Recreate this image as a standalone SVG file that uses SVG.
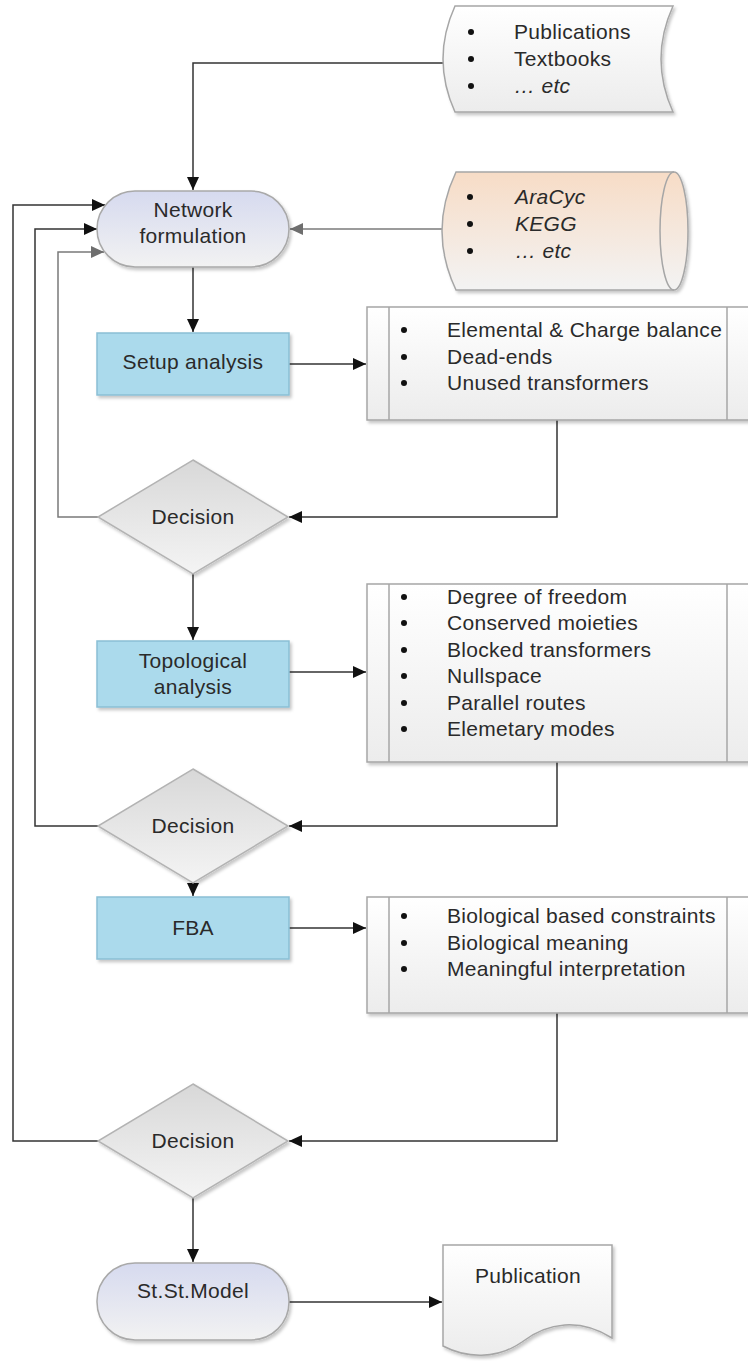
<svg xmlns="http://www.w3.org/2000/svg" width="748" height="1361" viewBox="0 0 748 1361">
<style>
.t{font-family:"Liberation Sans",Arial,sans-serif;font-size:21px;fill:#2a2a2a;letter-spacing:0.3px}
.i{font-style:italic}
.c{text-anchor:middle}
.b{fill:#111}
.ln{fill:none;stroke:#333;stroke-width:1.5}
.lg{fill:none;stroke:#7a7a7a;stroke-width:1.5}
.term{fill:url(#gTerm);stroke:#a9a9a9;stroke-width:1.5}
.proc{fill:#abdaec;stroke:#8abfd5;stroke-width:1.5}
.dec{fill:url(#gDec);stroke:#b3b3b3;stroke-width:1.5}
.box{fill:url(#gBox);stroke:#a6a6a6;stroke-width:1.5}
.sep{stroke:#a6a6a6;stroke-width:1.5}
.sh{filter:url(#shadow)}
</style>
<defs>
<linearGradient id="gTerm" x1="0" y1="0" x2="0" y2="1"><stop offset="0" stop-color="#d6daef"/><stop offset="1" stop-color="#f2f2f2"/></linearGradient>
<linearGradient id="gDec" x1="0" y1="0" x2="0" y2="1"><stop offset="0" stop-color="#d8d8d8"/><stop offset="1" stop-color="#f4f4f4"/></linearGradient>
<linearGradient id="gBox" x1="0" y1="0" x2="0" y2="1"><stop offset="0" stop-color="#ffffff"/><stop offset="1" stop-color="#ececec"/></linearGradient>
<linearGradient id="gCyl" x1="0" y1="0" x2="0" y2="1"><stop offset="0" stop-color="#f7dcc6"/><stop offset="1" stop-color="#f3f3f3"/></linearGradient>
<filter id="shadow" x="-10%" y="-10%" width="125%" height="125%"><feDropShadow dx="2" dy="2.5" stdDeviation="1.5" flood-color="#000" flood-opacity="0.22"/></filter>
<marker id="ab" markerUnits="userSpaceOnUse" markerWidth="14" markerHeight="12" refX="13" refY="6" orient="auto"><path d="M0,0 L13,6 L0,12 z" fill="#111"/></marker>
<marker id="ag" markerUnits="userSpaceOnUse" markerWidth="14" markerHeight="12" refX="13" refY="6" orient="auto"><path d="M0,0 L13,6 L0,12 z" fill="#6e6e6e"/></marker>
</defs>
<rect width="748" height="1361" fill="#fff"/>

<g id="connectors">
<path class="ln" d="M443,63 H193 V190" marker-end="url(#ab)"/>
<path class="lg" d="M442,229 H290" marker-end="url(#ag)"/>
<path class="ln" d="M193,267 V332" marker-end="url(#ab)"/>
<path class="ln" d="M289,364 H366" marker-end="url(#ab)"/>
<path class="ln" d="M557,420 V517 H289" marker-end="url(#ab)"/>
<path class="lg" d="M98,517 H58 V252 H104" marker-end="url(#ag)"/>
<path class="ln" d="M193,574 V640" marker-end="url(#ab)"/>
<path class="ln" d="M289,672 H366" marker-end="url(#ab)"/>
<path class="ln" d="M557,762 V826 H289" marker-end="url(#ab)"/>
<path class="ln" d="M98,826 H35 V229 H97" marker-end="url(#ab)"/>
<path class="ln" d="M193,883 V896" marker-end="url(#ab)"/>
<path class="ln" d="M289,928 H366" marker-end="url(#ab)"/>
<path class="ln" d="M557,1013 V1141 H289" marker-end="url(#ab)"/>
<path class="ln" d="M98,1141 H13 V205 H105" marker-end="url(#ab)"/>
<path class="ln" d="M193,1198 V1262" marker-end="url(#ab)"/>
<path class="ln" d="M289,1302 H442" marker-end="url(#ab)"/>
</g>

<g id="publications-src">
<path class="sh" d="M455,6 H673 Q649,59 673,112 H455 Q431,59 455,6 Z" fill="url(#gBox)" stroke="#a6a6a6" stroke-width="1.5"/>
<circle class="b" cx="471" cy="32" r="3"/><text class="t" x="514" y="39">Publications</text>
<circle class="b" cx="471" cy="59" r="3"/><text class="t" x="514" y="66">Textbooks</text>
<circle class="b" cx="471" cy="86" r="3"/><text class="t i" x="514" y="93">… etc</text>
</g>

<g id="databases">
<path class="sh" d="M456,172 H674 A14,59 0 0 1 674,290 H456 Q428,231 456,172 Z" fill="url(#gCyl)" stroke="#a6a6a6" stroke-width="1.5"/>
<path d="M674,172 A14,59 0 0 0 674,290" fill="none" stroke="#a6a6a6" stroke-width="1.5"/>
<circle class="b" cx="470" cy="197" r="3"/><text class="t i" x="515" y="204">AraCyc</text>
<circle class="b" cx="470" cy="224" r="3"/><text class="t i" x="515" y="231">KEGG</text>
<circle class="b" cx="470" cy="251" r="3"/><text class="t i" x="515" y="258">… etc</text>
</g>

<g id="network-formulation">
<rect class="term sh" x="97" y="191" width="192" height="76" rx="38"/>
<text class="t c" x="193" y="217">Network</text>
<text class="t c" x="193" y="243">formulation</text>
</g>

<g id="setup-analysis">
<rect class="proc sh" x="97" y="333" width="192" height="62"/>
<text class="t c" x="193" y="369">Setup analysis</text>
</g>

<g id="setup-checks">
<rect class="box sh" x="367" y="307" width="385" height="113"/>
<line class="sep" x1="389" y1="307" x2="389" y2="420"/>
<line class="sep" x1="727" y1="307" x2="727" y2="420"/>
<circle class="b" cx="404" cy="330" r="3"/><text class="t" x="447" y="337">Elemental &amp; Charge balance</text>
<circle class="b" cx="404" cy="357" r="3"/><text class="t" x="447" y="364">Dead-ends</text>
<circle class="b" cx="404" cy="383" r="3"/><text class="t" x="447" y="390">Unused transformers</text>
</g>

<g id="decision-1">
<path class="dec sh" d="M193,460 L288,517 L193,574 L98,517 Z"/>
<text class="t c" x="193" y="524">Decision</text>
</g>

<g id="topological-analysis">
<rect class="proc sh" x="97" y="641" width="192" height="66"/>
<text class="t c" x="193" y="668">Topological</text>
<text class="t c" x="193" y="694">analysis</text>
</g>

<g id="topological-checks">
<rect class="box sh" x="367" y="584" width="385" height="178"/>
<line class="sep" x1="389" y1="584" x2="389" y2="762"/>
<line class="sep" x1="727" y1="584" x2="727" y2="762"/>
<circle class="b" cx="404" cy="597" r="3"/><text class="t" x="447" y="604">Degree of freedom</text>
<circle class="b" cx="404" cy="623" r="3"/><text class="t" x="447" y="630">Conserved moieties</text>
<circle class="b" cx="404" cy="650" r="3"/><text class="t" x="447" y="657">Blocked transformers</text>
<circle class="b" cx="404" cy="676" r="3"/><text class="t" x="447" y="683">Nullspace</text>
<circle class="b" cx="404" cy="703" r="3"/><text class="t" x="447" y="710">Parallel routes</text>
<circle class="b" cx="404" cy="729" r="3"/><text class="t" x="447" y="736">Elemetary modes</text>
</g>

<g id="decision-2">
<path class="dec sh" d="M193,769 L288,826 L193,883 L98,826 Z"/>
<text class="t c" x="193" y="833">Decision</text>
</g>

<g id="fba">
<rect class="proc sh" x="97" y="897" width="192" height="62"/>
<text class="t c" x="193" y="935">FBA</text>
</g>

<g id="fba-checks">
<rect class="box sh" x="367" y="897" width="385" height="116"/>
<line class="sep" x1="389" y1="897" x2="389" y2="1013"/>
<line class="sep" x1="727" y1="897" x2="727" y2="1013"/>
<circle class="b" cx="404" cy="916" r="3"/><text class="t" x="447" y="923">Biological based constraints</text>
<circle class="b" cx="404" cy="943" r="3"/><text class="t" x="447" y="950">Biological meaning</text>
<circle class="b" cx="404" cy="969" r="3"/><text class="t" x="447" y="976">Meaningful interpretation</text>
</g>

<g id="decision-3">
<path class="dec sh" d="M193,1084 L288,1141 L193,1198 L98,1141 Z"/>
<text class="t c" x="193" y="1148">Decision</text>
</g>

<g id="st-st-model">
<rect class="term sh" x="97" y="1263" width="192" height="77" rx="38"/>
<text class="t c" x="193" y="1298">St.St.Model</text>
</g>

<g id="publication">
<path class="sh" d="M443,1245 H612 V1338 C580,1318 548,1322 522,1342 C496,1360 466,1358 443,1346 Z" fill="url(#gBox)" stroke="#a6a6a6" stroke-width="1.5"/>
<text class="t c" x="528" y="1283">Publication</text>
</g>
</svg>
